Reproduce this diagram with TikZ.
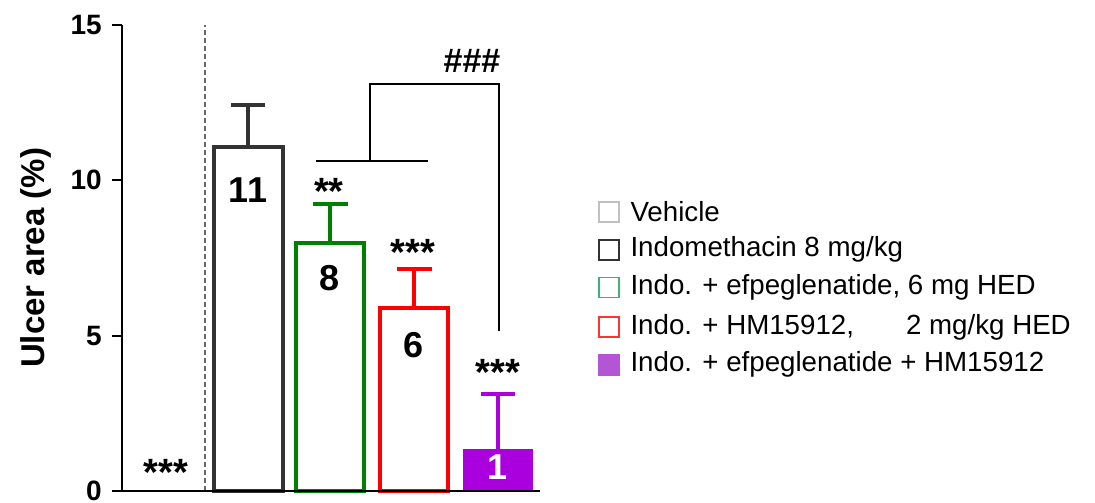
\documentclass[tikz,border=0pt]{standalone}
\usepackage{fontspec}
\setmainfont{Liberation Sans}
\usetikzlibrary{calc}
\definecolor{indogray}{HTML}{333333}
\definecolor{efpgreen}{HTML}{008000}
\definecolor{hmred}{HTML}{FF0000}
\definecolor{combpurple}{HTML}{AA00DD}
\definecolor{vehgray}{HTML}{C0C0C0}
\definecolor{leggreen}{HTML}{3CB371}
\definecolor{legred}{HTML}{FF3333}
\definecolor{legpurple}{HTML}{B455D6}
\tikzset{
  axisline/.style={line width=2pt},
  barline/.style={line width=4pt},
  ticklab/.style={font=\fontsize{28}{30}\bfseries\selectfont, anchor=east},
  barlab/.style={font=\fontsize{36}{40}\bfseries\selectfont},
  stars/.style={font=\fontsize{38}{40}\bfseries\selectfont},
  legbox/.style={line width=1.5pt, minimum size=20pt, inner sep=0pt},
  legtext/.style={font=\fontsize{27.7}{30}\selectfont, anchor=west}
}

\begin{document}
\begin{tikzpicture}[x=1pt,y=31.07pt]
\useasboundingbox (-122,-0.386) rectangle (973,15.80);
%separator
\draw[gray!80!black, line width=1.5pt, dash pattern=on 5pt off 3pt] (83,0) -- (83,15);
%bars
\draw[barline, indogray] (92,0) rectangle (161,11.07);
\draw[barline, efpgreen] (174,0) rectangle (242,7.98);
\draw[barline, hmred] (258,0) rectangle (326,5.89);
\fill[combpurple] (341,0) rectangle (411,1.35);
%error bars
\draw[barline, indogray] (126,11.07) -- (126,12.42) (109,12.42) -- (143,12.42);
\draw[barline, efpgreen] (208,7.98) -- (208,9.24) (191,9.24) -- (226,9.24);
\draw[barline, hmred] (292,5.89) -- (292,7.15) (275,7.15) -- (310,7.15);
\draw[barline, combpurple] (376,1.35) -- (376,3.12) (359,3.12) -- (393,3.12);
%y axis
\draw[axisline] (0,0) -- (0,15);
\foreach \y in {0,5,10,15}
\draw[axisline] (-10,\y) -- (0,\y) node[ticklab, xshift=-16pt] (tick\y) {\y};
%x axis
\draw[axisline] (-10,0) -- (418,0);
\node[rotate=90, font=\fontsize{33}{35}\bfseries\selectfont] (ylab) at (-86,7.5) {Ulcer area (\%)};
%values
\node[barlab] (v11) at (126,9.69) {11};
\node[barlab] (v8) at (208,6.86) {8};
\node[barlab] (v6) at (292,4.70) {6};
\node[barlab, white] (v1) at (376,0.77) {1};
%significance
\node[stars] (s0) at (44,0.6) {***};
\node[stars] (s1) at (207,9.65) {**};
\node[stars] (s2) at (291,7.68) {***};
\node[stars] (s3) at (376,3.82) {***};
\draw[line width=2pt] (194,10.62) -- (306,10.62) (248,10.62) -- (248,13.10) -- (377,13.10) -- (377,5.15);
\node[font=\fontsize{34}{36}\bfseries\selectfont] (hash) at (350,13.85) {\#\#\#};
%legend
\node[legbox, draw=vehgray] (b1) at (487,8.98) {};
\node[legbox, draw=indogray] (b2) at (487,7.76) {};
\node[legbox, draw=leggreen] (b3) at (487,6.54) {};
\node[legbox, draw=legred] (b4) at (487,5.28) {};
\node[legbox, draw=legpurple, fill=legpurple] (b5) at (487,4.06) {};
\node[legtext] (l1) at (505,8.98) {Vehicle};
\node[legtext] (l2) at (505,7.76) {Indomethacin 8 mg/kg};
\node[legtext] (l3) at (505,6.54) {Indo. + efpeglenatide, 6 mg HED};
\node[legtext] (l4) at (505,5.28) {Indo. + HM15912,\hspace{52pt}2 mg/kg HED};
\node[legtext] (l5) at (505,4.06) {Indo. + efpeglenatide + HM15912};
\end{tikzpicture}
\end{document}
